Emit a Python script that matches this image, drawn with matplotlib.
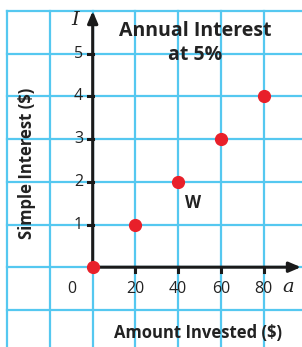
import matplotlib.pyplot as plt

amount = [0, 20, 40, 60, 80]
interest = [0, 1, 2, 3, 4]
x_ticks = [20, 40, 60, 80]
y_ticks = [1, 2, 3, 4, 5]

grid_c = '#55c8f0'
red = '#e8202a'
font = ['Open Sans', 'DejaVu Sans']

fig = plt.figure(figsize=(3.02, 3.47), dpi=100)
ax = fig.add_axes([0, 0, 1, 1])
ax.set_xlim(-43.4, 98.0)
ax.set_ylim(-1.87, 6.26)
ax.axis('off')

# grid box
for x in range(-40, 120, 20):
    ax.plot([x, x], [-2, 6], color=grid_c, lw=1.6, zorder=1)
for y in range(-1, 7):
    ax.plot([-40, 100], [y, y], color=grid_c, lw=1.6, zorder=1)

# axes with arrows
ax.annotate('', xy=(97.5, 0), xytext=(0, 0),
            arrowprops=dict(arrowstyle='-|>,head_length=0.7,head_width=0.3', color='#1a1a1a', lw=2.2, shrinkA=0, shrinkB=0), zorder=3)
ax.annotate('', xy=(0, 6.0), xytext=(0, 0),
            arrowprops=dict(arrowstyle='-|>,head_length=0.7,head_width=0.3', color='#1a1a1a', lw=2.2, shrinkA=0, shrinkB=0), zorder=3)

for t in x_ticks:
    ax.plot([t, t], [0, -0.12], color='#1a1a1a', lw=2.2, zorder=3)
    ax.text(t, -0.32, str(t), ha='center', va='top', fontsize=11.5, family=font, color='#222222')
for t in y_ticks:
    ax.plot([-2.4, 0], [t, t], color='#1a1a1a', lw=2.2, zorder=3)
    ax.text(-4.5, t, str(t), ha='right', va='center', fontsize=11.5, family=font, color='#222222')
ax.text(-10, -0.32, '0', ha='center', va='top', fontsize=11.5, family=font, color='#222222')

ax.text(-8.3, 5.79, 'I', ha='center', va='center', fontsize=14, style='italic', family='DejaVu Serif', color='#222222')
ax.text(91.5, -0.46, 'a', ha='center', va='center', fontsize=14, style='italic', family='DejaVu Serif', color='#222222')

ax.plot(amount, interest, 'o', color=red, markersize=8.5, zorder=4)

ax.text(48, 5.25, 'Annual Interest\nat 5%', ha='center', va='center', fontsize=14, fontweight='bold',
        family=font, color='#222222', linespacing=1.25)
ax.text(47, 1.51, 'W', ha='center', va='center', fontsize=12, fontweight='bold', family=font, color='#222222')
ax.text(-30.8, 2.43, 'Simple Interest ($)', rotation=90, ha='center', va='center', fontsize=12,
        fontweight='bold', family=font, color='#222222')
ax.text(49.3, -1.54, 'Amount Invested ($)', ha='center', va='center', fontsize=12,
        fontweight='bold', family=font, color='#222222')

fig.savefig('out.png', dpi=100)
